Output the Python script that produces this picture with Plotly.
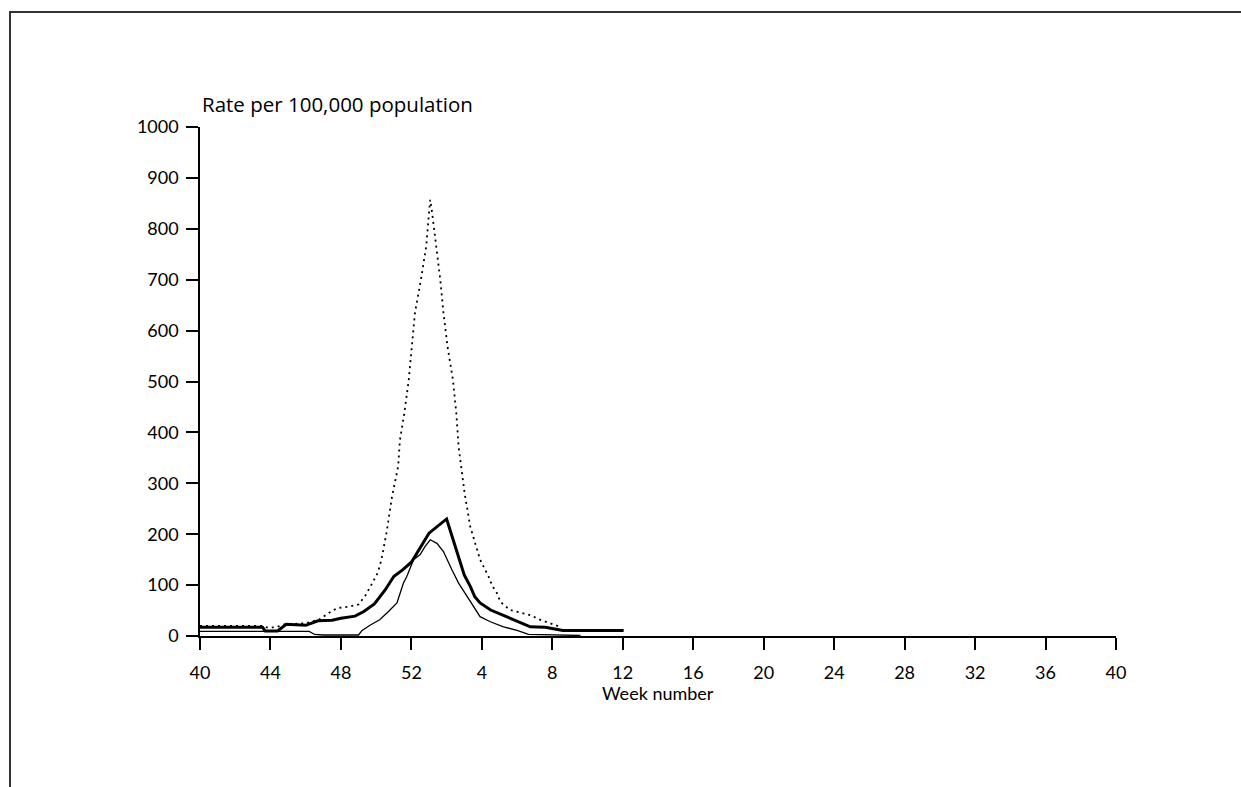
import plotly.graph_objects as go

# x positions are in weeks since week 40 (0 = week 40, 12 = week 52, 16 = week 4, 52 = week 40)
tick_pos = [0, 4, 8, 12, 16, 20, 24, 28, 32, 36, 40, 44, 48, 52]
tick_labels = ["40", "44", "48", "52", "4", "8", "12", "16", "20", "24", "28", "32", "36", "40"]
y_ticks = [0, 100, 200, 300, 400, 500, 600, 700, 800, 900, 1000]

dotted_x = [0, 3.5, 3.8, 4.3, 4.8, 6.0, 6.8, 7.3, 7.8, 8.5, 9.0, 9.4, 9.8, 10.1, 10.3, 10.45,
            10.6, 10.9, 11.25, 11.35, 11.6, 11.85, 12.03, 12.2, 12.54, 12.84, 13.0, 13.07,
            13.18, 13.3, 13.45, 13.64, 13.82, 14.05, 14.36, 14.55, 14.68, 14.93, 15.02, 15.34,
            15.9, 16.38, 16.57, 16.86, 17.05, 17.6, 18.18, 18.75, 19.3, 19.9, 20.45]
dotted_y = [20, 20, 17, 17, 23, 25, 33, 45, 55, 58, 62, 80, 105, 125, 150, 175,
            205, 274, 333, 385, 438, 503, 569, 634, 700, 765, 831, 857,
            831, 798, 752, 700, 635, 569, 503, 438, 372, 307, 281, 215,
            150, 117, 100, 84, 67, 51, 46, 41, 32, 25, 18]

thick_x = [0, 3.55, 3.7, 4.4, 4.9, 6.0, 6.7, 7.5, 8.0, 8.8, 9.3, 9.9, 10.5, 11.0, 11.5, 12.0,
           13.0, 14.0, 15.0, 15.35, 15.6, 15.9, 16.5, 18.75, 19.6, 20.6, 24.05]
thick_y = [17, 17, 10, 10, 23, 21, 30, 31, 35, 39, 48, 63, 90, 117, 130, 145,
           202, 230, 120, 97, 77, 65, 51, 18, 17, 11, 11]

thin_x = [0, 6.2, 6.5, 7.0, 9.0, 9.2, 9.7, 10.2, 10.7, 11.0, 11.18, 11.36, 11.55, 11.74, 12.12,
          12.5, 12.78, 13.07, 13.45, 13.82, 14.2, 14.3, 14.68, 15.06, 15.44, 15.9, 16.48,
          17.23, 18.0, 18.65, 21.6]
thin_y = [9, 9, 3, 2, 2, 11, 22, 32, 48, 58, 65, 84, 104, 117, 150,
          160, 176, 189, 182, 166, 136, 130, 104, 84, 64, 38, 28,
          18, 11, 3, 1]

fig = go.Figure()
fig.add_trace(go.Scatter(x=dotted_x, y=dotted_y, mode="lines",
                         line=dict(color="black", width=1.8, dash="2px,4px")))
fig.add_trace(go.Scatter(x=thin_x, y=thin_y, mode="lines",
                         line=dict(color="black", width=1.3)))
fig.add_trace(go.Scatter(x=thick_x, y=thick_y, mode="lines",
                         line=dict(color="black", width=3)))

font = "Lato, 'Open Sans', sans-serif"
L, R, T, B = 200, 125, 127, 151
W, H = 1241, 787
pw, ph = W - L - R, H - T - B

def px(x):
    return (x - L) / pw

def py(y):
    return (H - B - y) / ph

fig.update_layout(
    width=W, height=H,
    margin=dict(l=L, r=R, t=T, b=B),
    paper_bgcolor="white", plot_bgcolor="white",
    showlegend=False,
    font=dict(family=font, size=18, color="black"),
    xaxis=dict(range=[0, 52], tickvals=tick_pos, ticktext=tick_labels,
               showline=True, linecolor="black", linewidth=1.5,
               ticks="outside", ticklen=12, tickwidth=1.5, tickcolor="black",
               showgrid=False, zeroline=False, ticklabelstandoff=8),
    yaxis=dict(range=[0, 1000], tickvals=y_ticks,
               showline=True, linecolor="black", linewidth=1.5,
               ticks="outside", ticklen=12, tickwidth=1.5, tickcolor="black",
               showgrid=False, zeroline=False, ticklabelstandoff=4),
    shapes=[dict(type="path", xref="paper", yref="paper",
                 path=f"M {px(10)} {py(787)} L {px(10)} {py(12)} L {px(1241)} {py(12)}",
                 line=dict(color="#333333", width=2))],
    annotations=[
        dict(text="Rate per 100,000 population", xref="paper", yref="paper",
             x=0, y=py(104), xanchor="left", yanchor="middle", showarrow=False,
             font=dict(family="'Open Sans', Lato, sans-serif", size=20.5)),
        dict(text="Week number", xref="paper", yref="paper",
             x=0.5, y=py(693), xanchor="center", yanchor="middle", showarrow=False,
             font=dict(size=18)),
    ],
)

fig.write_html("out.html")
